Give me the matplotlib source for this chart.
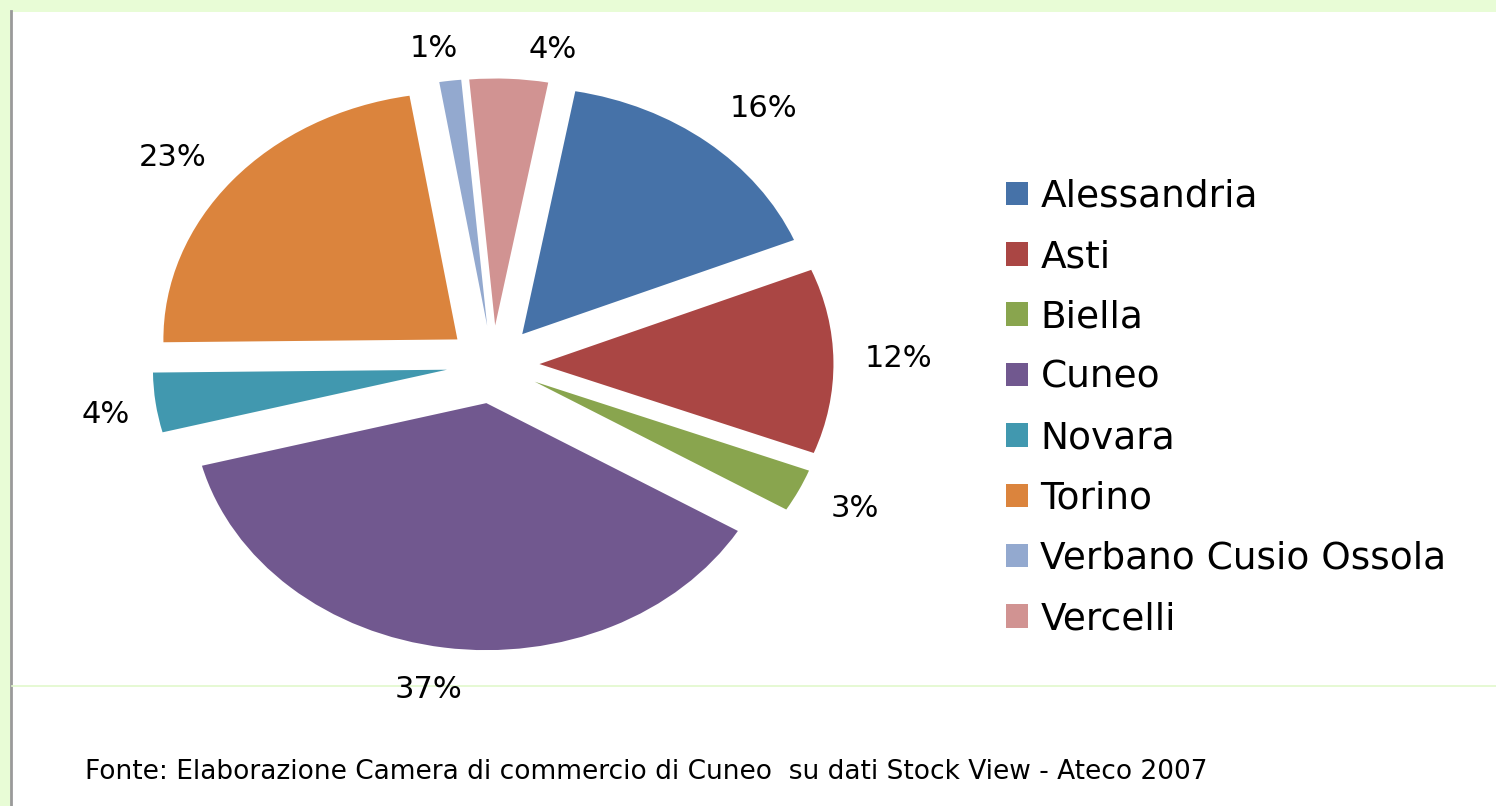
import matplotlib
matplotlib.use("Agg")
import matplotlib.pyplot as plt
from matplotlib.patches import Rectangle
from matplotlib.lines import Line2D

# Data
provinces = ["Alessandria", "Asti", "Biella", "Cuneo", "Novara", "Torino",
             "Verbano Cusio Ossola", "Vercelli"]
shares = [15.9, 12.1, 2.8, 37.3, 3.9, 22.6, 1.2, 4.3]
colors = ["#4672A8", "#AA4644", "#89A54E", "#71588F", "#4198AF", "#DB843D",
          "#93A9CF", "#D19392"]
source_note = "Fonte: Elaborazione Camera di commercio di Cuneo  su dati Stock View - Ateco 2007"

# small pixel nudges of the percentage labels (x right, y down), as placed in the original
label_nudge = [(19, 5), (6, -2), (3, -4), (-7, -7), (8, 5), (-14, 9), (-9, 17), (41, 20)]

W, H = 1496, 806
fig = plt.figure(figsize=(W / 100, H / 100), dpi=100)
fig.patch.set_facecolor("#E8FCD6")

# white chart area, borders
fig.patches.append(Rectangle((12 / W, 0), 1 - 12 / W, 1 - 12 / H, transform=fig.transFigure,
                             facecolor="white", edgecolor="none", zorder=-5))
fig.lines.append(Line2D([10.5 / W, 10.5 / W], [0, 1 - 11 / H], transform=fig.transFigure,
                        color="#9A9A9A", lw=2, zorder=-4))
fig.lines.append(Line2D([12 / W, 1], [1 - 686 / H, 1 - 686 / H], transform=fig.transFigure,
                        color="#E2F8CC", lw=1.2, zorder=-4))

ax = fig.add_axes([0, 0, 1, 1])
ax.set_facecolor("none")
ax.set_zorder(1)

cx, cy = 493, 364.5      # pie centre in pixels (from top)
rx, ry = 294, 247        # horizontal / vertical radius in pixels

wedges, texts, autotexts = ax.pie(
    shares, colors=colors, startangle=79.6, counterclock=False,
    explode=[0.158] * len(shares), autopct="%.0f%%", pctdistance=1.2,
    wedgeprops=dict(linewidth=0), textprops=dict(fontsize=22, color="black"))

for t, (dx, dy) in zip(autotexts, label_nudge):
    x, y = t.get_position()
    t.set_position((x + dx / rx, y - dy / ry))

ax.set_aspect("auto")
ax.set_xlim(-cx / rx, (W - cx) / rx)
ax.set_ylim(-(H - cy) / ry, cy / ry)
ax.axis("off")

leg = ax.legend(wedges, provinces, loc="center left",
                bbox_to_anchor=(1006 / W, 1 - 408 / H), bbox_transform=fig.transFigure,
                frameon=False, fontsize=27, handlelength=0.59, handleheight=0.59,
                handletextpad=0.33, labelspacing=0.65, borderpad=0, borderaxespad=0)

fig.text(85 / W, 1 - 772 / H, source_note, fontsize=19, ha="left", va="center",
         color="black", zorder=5)

fig.savefig("out.png", dpi=100, facecolor=fig.get_facecolor())
